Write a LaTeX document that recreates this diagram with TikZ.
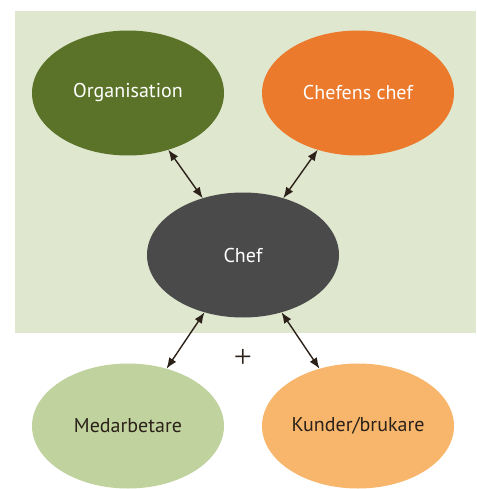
\documentclass[tikz,border=0pt]{standalone}
\usepackage{fontspec}
\setmainfont{PT Sans}
\newfontfamily\plusfont{Liberation Serif}
\usetikzlibrary{arrows.meta, shapes.geometric}
\definecolor{bgGreen}{HTML}{DFE7CE}
\definecolor{orgGreen}{HTML}{5B7328}
\definecolor{bossOrange}{HTML}{EB7A2D}
\definecolor{chefGrey}{HTML}{4A4A4A}
\definecolor{staffGreen}{HTML}{C0D39E}
\definecolor{clientOrange}{HTML}{F7B66B}
\definecolor{arrowBrown}{HTML}{2B2119}

\begin{document}
\begin{tikzpicture}[x=1pt, y=-1pt, >={Latex[length=11pt,width=8.5pt]}, line cap=round, line join=round,
	blob/.style={ellipse, minimum width=192pt, minimum height=125pt, inner sep=0pt, outer sep=0pt,
		font=\fontsize{20}{24}\selectfont},
	link/.style={<->, arrowBrown, line width=1.4pt}]
\useasboundingbox (0,0) rectangle (476,489);
%========================
% background panel
%========================
\fill[bgGreen] (15,11) rectangle (476,333);

%========================
% nodes
%========================
\node[blob, fill=orgGreen, text=white] (org) at (128,93) {Organisation};
\node[blob, fill=bossOrange, text=white] (boss) at (358,93) {Chefens chef};
\node[blob, fill=chefGrey, text=white] (chef) at (243,255) {Chef};
\node[blob, fill=staffGreen, text=arrowBrown] (staff) at (128,426) {Medarbetare};
\node[blob, fill=clientOrange, text=arrowBrown] (client) at (358,426) {Kunder/brukare};
\node[font=\plusfont\fontsize{32}{32}\selectfont, text=arrowBrown] (plus) at (243,358) {+};

% links
\draw[link] (org) -- (chef);
\draw[link] (boss) -- (chef);
\draw[link] (chef) -- (staff);
\draw[link] (chef) -- (client);
\end{tikzpicture}
\end{document}
